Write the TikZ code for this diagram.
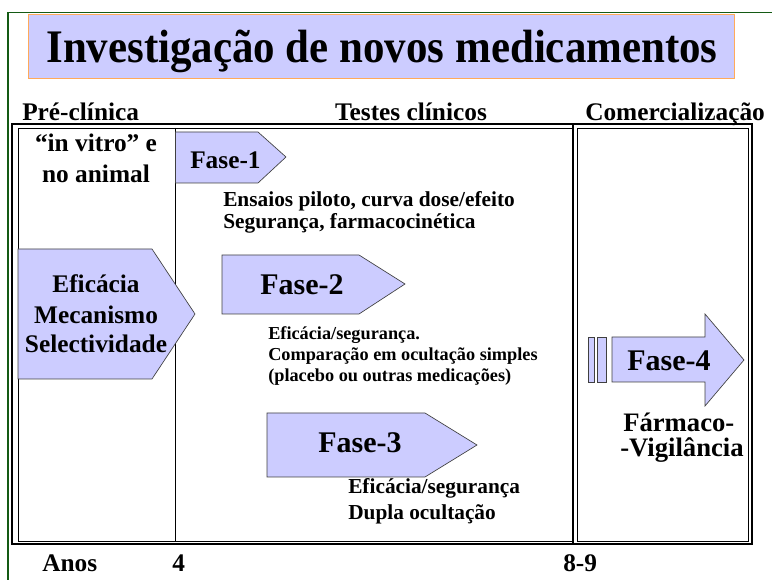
\documentclass[tikz,border=0pt]{standalone}
\usepackage{fontspec}
\setmainfont{Liberation Serif}
\newfontfamily\titlefont{Liberation Serif}[FakeStretch=0.92]
\definecolor{lavanda}{RGB}{204,204,255}
\definecolor{laranja}{RGB}{255,170,90}
\definecolor{verde}{RGB}{20,90,20}
\tikzset{
  fase/.style={draw=black!75,fill=lavanda,line width=0.5pt},
  txt/.style={anchor=base west,inner sep=0pt,font=\bfseries},
  mid/.style={anchor=base,inner sep=0pt,font=\bfseries}
}
\newcommand{\fsz}[2]{\fontsize{#1}{#2}\selectfont\bfseries}

\begin{document}
\begin{tikzpicture}[x=0.75pt,y=-0.75pt]
\useasboundingbox (0,0) rectangle (772,580);
% moldura
\draw[verde,line width=0.8pt] (8,580) -- (8,12.7) -- (772,12.7);
% titulo
\draw[laranja,fill=lavanda,line width=0.7pt] (28,14) rectangle (734,78);
\node[mid,font=\titlefont\fsz{35}{38}] (titulo) at (382,63) {Investigação de novos medicamentos};
% cabecalhos
\node[txt,font=\fsz{19}{22}] (pre) at (22,121) {Pré-clínica};
\node[mid,font=\fsz{19}{22}] (clin) at (411,121) {Testes clínicos};
\node[txt,font=\fsz{19}{22}] (com) at (585,121) {Comercialização};
% caixas
\draw[line width=2.2pt] (12,124) rectangle (752,544);
\draw[line width=2.2pt] (573,124) -- (573,544);
\draw[line width=0.6pt] (18,128) rectangle (573,541);
\draw[line width=0.6pt] (577,128) rectangle (748,541);
\draw[line width=0.6pt] (175.5,128) -- (175.5,541);
% pre-clinica
\node[mid,font=\fsz{19}{22}] (vitro1) at (96,152) {“in vitro” e};
\node[mid,font=\fsz{19}{22}] (vitro2) at (96,183) {no animal};
\draw[fase] (18,249) -- (152,249) -- (195,314) -- (152,379) -- (18,379) -- cycle;
\node[mid,font=\fsz{19}{22}] (efic) at (96,293) {Eficácia};
\node[mid,font=\fsz{19}{22}] (mec) at (96,324) {Mecanismo};
\node[mid,font=\fsz{19}{22}] (sel) at (96,353) {Selectividade};
% fase 1
\draw[fase] (175.5,132) -- (258,132) -- (286,157) -- (258,183) -- (175.5,183) -- cycle;
\node[txt,font=\fsz{19}{22}] (f1) at (190,169) {Fase-1};
\node[txt,font=\fsz{16}{18}] (f1a) at (223,207) {Ensaios piloto, curva dose/efeito};
\node[txt,font=\fsz{16}{18}] (f1b) at (223,229) {Segurança, farmacocinética};
% fase 2
\draw[fase] (222,255) -- (359,255) -- (405,284) -- (359,314) -- (222,314) -- cycle;
\node[txt,font=\fsz{22.5}{26}] (f2) at (260,295) {Fase-2};
\node[txt,font=\fsz{13.7}{16}] (f2a) at (268,340) {Eficácia/segurança.};
\node[txt,font=\fsz{13.7}{16}] (f2b) at (268,361) {Comparação em ocultação simples};
\node[txt,font=\fsz{13.7}{16}] (f2c) at (268,382) {(placebo ou outras medicações)};
% fase 3
\draw[fase] (267,413) -- (425,413) -- (477,445) -- (425,477) -- (267,477) -- cycle;
\node[txt,font=\fsz{22.5}{26}] (f3) at (318,453) {Fase-3};
\node[txt,font=\fsz{16}{18}] (f3a) at (348,494) {Eficácia/segurança};
\node[txt,font=\fsz{16}{18}] (f3b) at (348,520) {Dupla ocultação};
% fase 4
\draw[fase] (588,337) rectangle (594,382);
\draw[fase] (597,337) rectangle (606,382);
\draw[fase] (612,337) -- (705,337) -- (705,314) -- (744,360) -- (705,406) -- (705,382) -- (612,382) -- cycle;
\node[txt,font=\fsz{22.5}{26}] (f4) at (627,371) {Fase-4};
\node[txt,font=\fsz{20}{22}] (farm) at (623,432) {Fármaco-};
\node[txt,font=\fsz{20}{22}] (vig) at (620,457) {-Vigilância};
% anos
\node[txt,font=\fsz{19}{22}] (anos) at (42,572) {Anos};
\node[txt,font=\fsz{19}{22}] (a4) at (172,572) {4};
\node[txt,font=\fsz{19}{22}] (a89) at (563,572) {8-9};
\end{tikzpicture}
\end{document}
